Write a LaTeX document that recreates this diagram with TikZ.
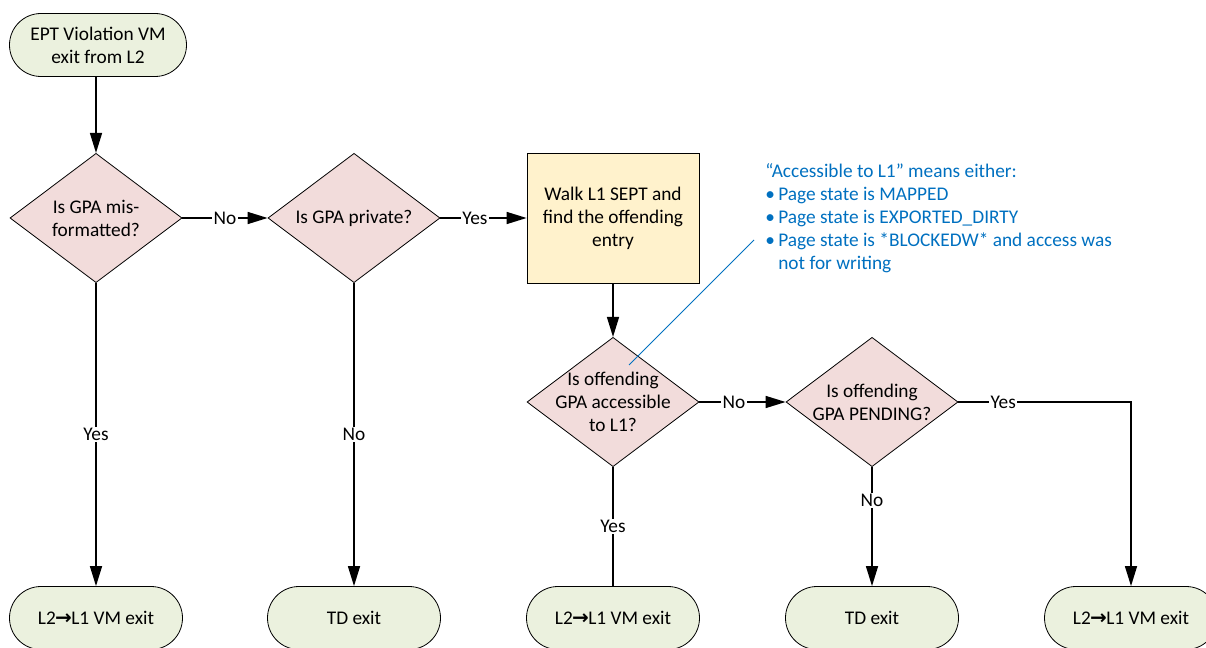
\documentclass[tikz,border=0pt]{standalone}
\usepackage{fontspec}
\setmainfont{Carlito}
\newfontfamily\arrowfont{DejaVu Sans}
\usetikzlibrary{shapes.geometric,arrows.meta}
\definecolor{termfill}{HTML}{EBF1DE}
\definecolor{decfill}{HTML}{F2DCDB}
\definecolor{procfill}{HTML}{FFF2CC}
\definecolor{noteblue}{HTML}{0070C0}
\newcommand{\thickarrow}{{\arrowfont\bfseries\fontsize{15}{15}\selectfont\kern-0.5pt→\kern-0.5pt}}
\tikzset{
  txt/.style={font=\fontsize{14.5}{17.25}\selectfont},
  term/.style={txt, draw=black, line width=0.6pt, fill=termfill, rectangle,
    rounded corners=23.6pt, minimum width=129.75pt, minimum height=47.25pt,
    align=center, inner sep=0pt},
  dec/.style={draw=black, line width=0.6pt, fill=decfill, diamond,
    minimum width=129pt, minimum height=97pt, inner sep=0pt},
  dtext/.style={txt, align=center, inner sep=0pt},
  proc/.style={txt, draw=black, line width=0.6pt, fill=procfill, rectangle,
    minimum width=129pt, minimum height=97.5pt, align=center, inner sep=0pt},
  conn/.style={line width=1.1pt, draw=black},
  arr/.style={conn, -{Triangle[length=15pt,width=9pt]}},
  lbl/.style={txt, fill=white, inner sep=1pt},
  annot/.style={font=\fontsize{14.5}{17.25}\selectfont, text=noteblue, align=left, inner sep=0pt}
}
\begin{document}
\begin{tikzpicture}[x=0.75pt,y=-0.75pt]
\useasboundingbox (0,0) rectangle (1206,648);
% nodes
\node[term, minimum width=132.75pt] (start) at (98,45) {EPT Violation VM\\exit from L2};
\node[dec, label={[dtext]center:Is GPA mis-\\formatted?}] (d1) at (96,218) {};
\node[dec, label={[dtext]center:Is GPA private?}] (d2) at (354,218) {};
\node[proc] (walk) at (613,218) {Walk L1 SEPT and\\find the offending\\entry};
\node[dec, label={[dtext]center:Is offending\\GPA accessible\\to L1?}] (d3) at (613,402) {};
\node[dec, label={[dtext]center:Is offending\\GPA PENDING?}] (d4) at (872,402) {};
\node[term] (t1) at (96,618) {L2\thickarrow L1 VM exit};
\node[term] (t2) at (354,618) {TD exit};
\node[term] (t3) at (613,618) {L2\thickarrow L1 VM exit};
\node[term] (t4) at (872,618) {TD exit};
\node[term] (t5) at (1131,618) {L2\thickarrow L1 VM exit};
% connectors
\draw[arr] (start.south -| d1.north) -- (d1.north);
\draw[arr] (d1.east) -- node[lbl] {No} (d2.west);
\draw[arr] (d2.east) -- node[lbl, pos=0.4] {Yes} (walk.west);
\draw[arr] (walk.south) -- (d3.north);
\draw[arr] (d3.east) -- node[lbl, pos=0.4] {No} (d4.west);
\draw[arr] (d4.east) -| node[lbl, pos=0.13] {Yes} (t5.north);
\draw[arr] (d1.south) -- node[lbl] {Yes} (t1.north);
\draw[arr] (d2.south) -- node[lbl] {No} (t2.north);
\draw[conn] (d3.south) -- node[lbl] {Yes} (t3.north);
\draw[arr] (d4.south) -- node[lbl, pos=0.28] {No} (t4.north);
% annotation
\node[annot, anchor=north west] (note) at (765,163) {%
“Accessible to L1” means either:\\
\makebox[9.8pt][l]{\textbullet}Page state is MAPPED\\
\makebox[9.8pt][l]{\textbullet}Page state is EXPORTED\_DIRTY\\
\makebox[9.8pt][l]{\textbullet}Page state is *BLOCKEDW* and access was\\
\hspace*{9.8pt}not for writing};
\coordinate (calloutA) at (754,240);
\coordinate (calloutB) at (629,365);
\draw[noteblue, line width=0.6pt] (calloutA) -- (calloutB);
\end{tikzpicture}
\end{document}
